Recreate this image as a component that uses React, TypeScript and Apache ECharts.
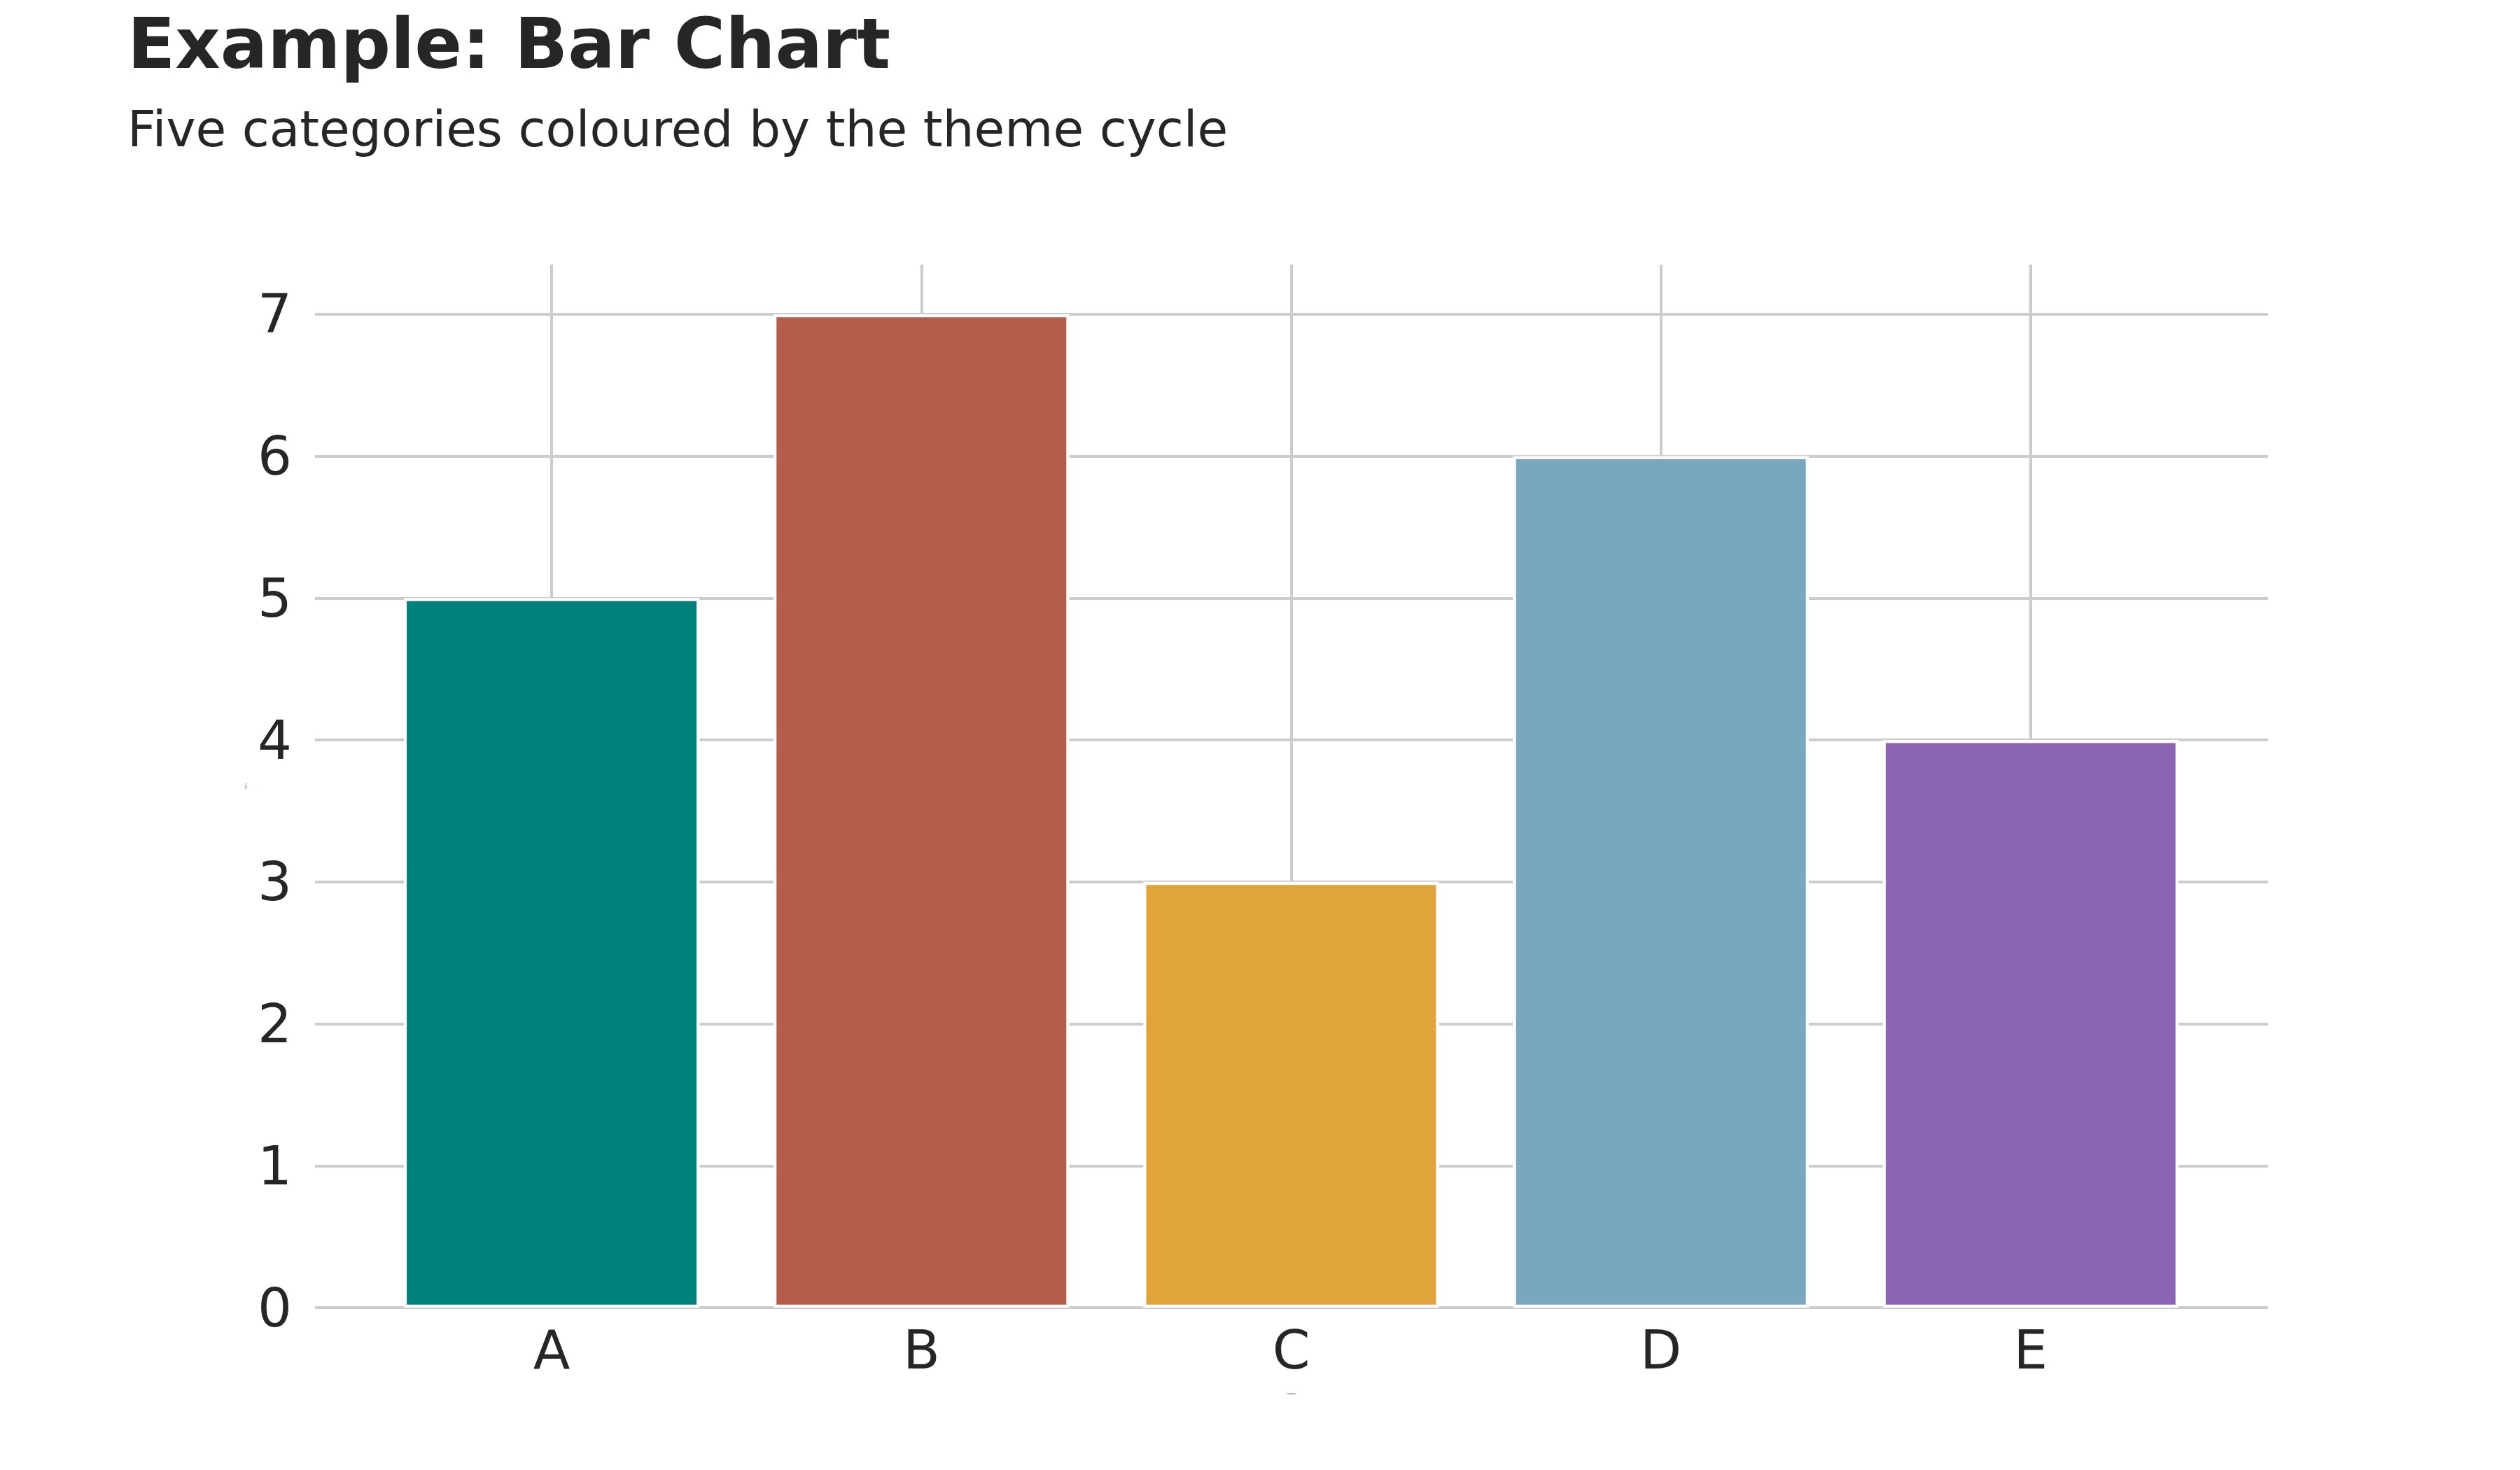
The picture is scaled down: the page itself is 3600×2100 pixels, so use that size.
import React, { useEffect, useRef } from "react";
import * as echarts from "echarts";

const categories = ["A", "B", "C", "D", "E"];
const values = [5, 7, 3, 6, 4];
const barColors = ["#00807c", "#b55c4a", "#e0a43b", "#79a7bf", "#8c64b5"];
const yTicks = { min: 0, max: 7.35, interval: 1 };

const FONT = "DejaVu Sans";
const TEXT = "#262626";
const GRID = "#cccccc";

const App: React.FC = () => {
	const chartRef = useRef<HTMLDivElement>(null);

	useEffect(() => {
		if (!chartRef.current) return;
		document.body.style.margin = "0";
		const chart = echarts.init(chartRef.current, null, { renderer: "svg" });

		// grid 0 holds the full-width horizontal gridlines, grid 1 holds the bars
		const option: echarts.EChartsOption = {
			animation: false,
			backgroundColor: "#ffffff",
			title: [
				{
					text: "Example: Bar Chart",
					left: 182,
					top: 12,
					padding: 0,
					textStyle: { fontFamily: FONT, fontSize: 100, fontWeight: "bold", color: TEXT },
				},
				{
					text: "Five categories coloured by the theme cycle",
					left: 182,
					top: 149,
					padding: 0,
					textStyle: { fontFamily: FONT, fontSize: 71, fontWeight: "normal", color: TEXT },
				},
			],
			grid: [
				{ left: 450, top: 378, width: 2790, height: 1490 },
				{ left: 524, top: 378, width: 2641, height: 1490 },
			],
			xAxis: [
				{ type: "value", gridIndex: 0, min: 0, max: 1, show: false },
				{
					type: "category",
					gridIndex: 1,
					data: categories,
					name: "Category",
					nameLocation: "middle",
					nameGap: 121,
					nameTextStyle: { fontFamily: FONT, fontSize: 3, color: TEXT },
					axisLine: { show: false },
					axisTick: {
						show: true,
						alignWithLabel: true,
						inside: true,
						length: 1490,
						lineStyle: { color: GRID, width: 4 },
					},
					axisLabel: { fontFamily: FONT, fontSize: 77, color: TEXT, margin: 22 },
					splitLine: { show: false },
				},
			],
			yAxis: [
				{
					type: "value",
					gridIndex: 0,
					min: yTicks.min,
					max: yTicks.max,
					interval: yTicks.interval,
					name: "Value",
					nameLocation: "middle",
					nameGap: 98,
					nameRotate: 90,
					nameTextStyle: { fontFamily: FONT, fontSize: 3, color: TEXT },
					axisLine: { show: false },
					axisTick: { show: false },
					axisLabel: { fontFamily: FONT, fontSize: 77, color: TEXT, margin: 33, showMaxLabel: false },
					splitLine: { show: true, showMaxLine: false, lineStyle: { color: GRID, width: 4 } },
				},
				{
					type: "value",
					gridIndex: 1,
					min: yTicks.min,
					max: yTicks.max,
					interval: yTicks.interval,
					show: false,
					splitLine: { show: false },
				},
			],
			series: [
				{
					type: "bar",
					xAxisIndex: 1,
					yAxisIndex: 1,
					barWidth: "80%",
					data: values.map((v, i) => ({
						value: v,
						itemStyle: { color: barColors[i], borderColor: "#ffffff", borderWidth: 4.3 },
					})),
				},
			],
		};

		chart.setOption(option);
		return () => chart.dispose();
	}, []);

	return <div ref={chartRef} style={{ width: "3600px", height: "2100px" }} />;
};

export default App;
